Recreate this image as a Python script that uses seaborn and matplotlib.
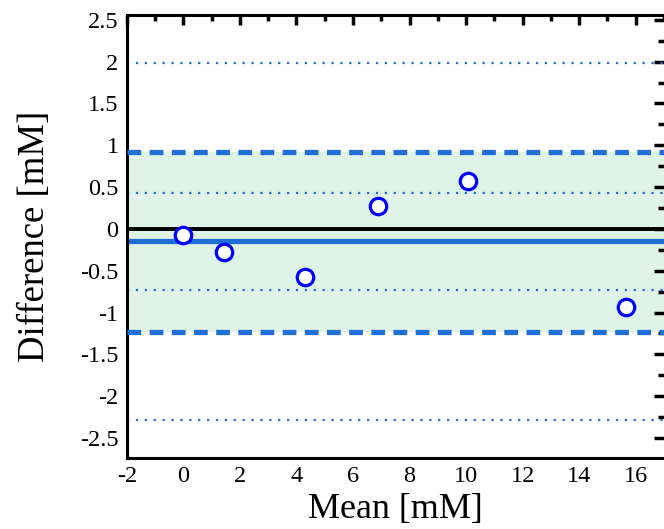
import matplotlib
matplotlib.use("Agg")
import matplotlib.pyplot as plt
import seaborn as sns
import pandas as pd
import numpy as np
from matplotlib.ticker import MultipleLocator

mean_vals = [0.0, 1.45, 4.3, 6.9, 10.05, 15.65]
diff_vals = [-0.07, -0.27, -0.57, 0.28, 0.57, -0.93]

bias = -0.15
loa_upper = 0.925
loa_lower = -1.23
ci_lines = [1.98, 0.43, -0.15, -0.73, -2.28]

xticks = [-2, 0, 2, 4, 6, 8, 10, 12, 14, 16]
yticks = [2.5, 2, 1.5, 1, 0.5, 0, -0.5, -1, -1.5, -2, -2.5]
ytick_labels = ["2.5", "2", "1.5", "1", "0.5", "0", "-0.5", "-1", "-1.5", "-2", "-2.5"]

df = pd.DataFrame({"Mean": mean_vals, "Difference": diff_vals})

sns.set_style("white")
plt.rcParams["font.family"] = ["Liberation Serif", "DejaVu Serif"]
plt.rcParams["text.color"] = "black"
plt.rcParams["axes.labelcolor"] = "black"
plt.rcParams["xtick.color"] = "black"
plt.rcParams["ytick.color"] = "black"

fig = plt.figure(figsize=(6.64, 5.29), dpi=100)
ax = fig.add_axes([0.191, 0.134, 0.809, 0.838])

blue = "#1f6fd6"
ax.axhspan(loa_lower, loa_upper, color="#dff3e8", zorder=0, lw=0)
for y in ci_lines:
    ax.axhline(y, color=blue, ls=(0, (1, 3)), lw=1.6, zorder=2)
ax.axhline(0, color="black", lw=2.8, zorder=3)
ax.axhline(bias, color=blue, lw=3.8, zorder=2.5)
ax.axhline(loa_upper, color=blue, ls=(0, (2.6, 1.6)), lw=3.8, zorder=3)
ax.axhline(loa_lower, color=blue, ls=(0, (2.6, 1.6)), lw=3.8, zorder=3)

sns.scatterplot(data=df, x="Mean", y="Difference", ax=ax, s=140, marker="o",
                facecolor="white", edgecolor="#0000ff", linewidth=2.3, zorder=5)

ax.set_xlim(-2, 17)
ax.set_ylim(-2.74, 2.56)
ax.set_xticks(xticks)
ax.set_xticklabels([str(t) for t in xticks])
ax.set_yticks(yticks)
ax.set_yticklabels(ytick_labels)
ax.xaxis.set_minor_locator(MultipleLocator(1))
ax.yaxis.set_minor_locator(MultipleLocator(0.25))
ax.tick_params(which="major", direction="in", length=7, width=2.5, labelsize=17.5,
               top=True, right=True, colors="black", labelcolor="black", pad=6)
ax.tick_params(which="minor", direction="in", length=4, width=2.5, top=True, right=True,
               colors="black")
for s in ["left", "bottom", "top"]:
    ax.spines[s].set_linewidth(2.2)
    ax.spines[s].set_color("black")
ax.spines["right"].set_visible(False)

ax.set_xlabel("Mean [mM]", fontsize=26, labelpad=4, color="black")
ax.set_ylabel("Difference [mM]", fontsize=26.5, labelpad=20, color="black")

fig.savefig("out.png", dpi=100)
